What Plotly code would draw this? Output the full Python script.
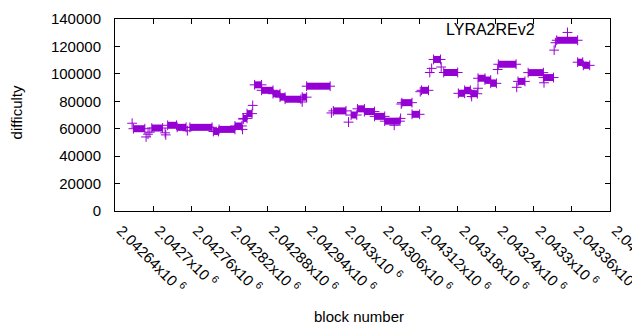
import plotly.graph_objects as go

# plateaus: runs of consecutive blocks at (visually) the same difficulty
plateau_start = [2042669, 2042698, 2042723, 2042738, 2042758, 2042795, 2042804, 2042829,
                 2042842, 2042848, 2042860, 2042871, 2042889, 2042900, 2042908, 2042935,
                 2042942, 2042984, 2043012, 2043022, 2043033, 2043049, 2043065, 2043092,
                 2043108, 2043123, 2043142, 2043158, 2043181, 2043191, 2043201, 2043212,
                 2043223, 2043232, 2043244, 2043275, 2043291, 2043315, 2043336, 2043369,
                 2043378]
plateau_end = [2042687, 2042715, 2042737, 2042752, 2042793, 2042803, 2042829, 2042840,
               2042848, 2042856, 2042871, 2042889, 2042900, 2042908, 2042933, 2042942,
               2042979, 2043004, 2043021, 2043033, 2043049, 2043065, 2043089, 2043108,
               2043120, 2043134, 2043153, 2043180, 2043191, 2043200, 2043211, 2043223,
               2043232, 2043241, 2043272, 2043286, 2043315, 2043331, 2043369, 2043377,
               2043388]
plateau_level = [60000, 60500, 62500, 61000, 61000, 58000, 59500, 62000,
                 67500, 71000, 92000, 88000, 85500, 83000, 81500, 83000,
                 91000, 73000, 70000, 74500, 72500, 69000, 65500, 79000,
                 70500, 88000, 110500, 101000, 85800, 88000, 85500, 96800,
                 95500, 93100, 107000, 94500, 100900, 97300, 124500, 108500,
                 106200]

# isolated blocks
single_block = [2042667, 2042689, 2042692, 2042695, 2042719, 2042720, 2042754, 2042841,
                2042842, 2042857, 2042935, 2042981, 2043008, 2043080, 2043090, 2043091,
                2043121, 2043136, 2043139, 2043154, 2043202, 2043212, 2043243, 2043273,
                2043316, 2043332, 2043334, 2043353]
single_level = [64000, 54000, 56000, 57500, 57000, 55500, 58500, 59500,
                67000, 77000, 79500, 71500, 64800, 62500, 67500, 78000,
                87000, 101000, 104000, 105000, 83500, 89500, 103200, 90200,
                93500, 117300, 122700, 130200]

x_tickvals = [2042640 + 60 * i for i in range(14)]
x_ticktext = ["2.04264", "2.0427", "2.04276", "2.04282", "2.04288", "2.04294", "2.043",
              "2.04306", "2.04312", "2.04318", "2.04324", "2.0433", "2.04336", "2.04342"]
y_tickvals = [0, 20000, 40000, 60000, 80000, 100000, 120000, 140000]

COLOR = "#9400d3"
FONT = "Liberation Sans, Arial, sans-serif"

seg_x, seg_y = [], []
for s, e, v in zip(plateau_start, plateau_end, plateau_level):
    seg_x += [s, e, None]
    seg_y += [v, v, None]

mk_x = plateau_start + plateau_end + single_block
mk_y = plateau_level + plateau_level + single_level

fig = go.Figure()
fig.add_trace(go.Scatter(x=seg_x, y=seg_y, mode="lines",
                         line=dict(color=COLOR, width=7), hoverinfo="skip",
                         showlegend=False))
fig.add_trace(go.Scatter(x=mk_x, y=mk_y, mode="markers",
                         marker=dict(symbol="cross-thin-open", size=7, color=COLOR,
                                     line=dict(color=COLOR, width=1)),
                         showlegend=False))

axis_common = dict(showgrid=False, zeroline=False, showline=True, linecolor="black",
                   linewidth=1, mirror="ticks", ticks="inside", ticklen=5,
                   tickcolor="black", automargin=False,
                   tickfont=dict(family=FONT, size=15, color="black"))

fig.update_xaxes(range=[2042640, 2043420], tickmode="array", tickvals=x_tickvals,
                 ticktext=[t + "x10 <sup>6</sup>" for t in x_ticktext], tickangle=45,
                 ticklabelstandoff=4, ticklabelshift=6, ticklabeloverflow="allow",
                 **axis_common)
fig.update_yaxes(range=[0, 140000], tickmode="array", tickvals=y_tickvals,
                 ticktext=[str(v) for v in y_tickvals], ticklabelstandoff=10,
                 **axis_common)

fig.add_annotation(text="LYRA2REv2", xref="paper", yref="paper", x=0.852, y=0.943,
                   xanchor="right", yanchor="middle", showarrow=False,
                   font=dict(family=FONT, size=16, color="black"))
fig.add_annotation(text="block number", xref="paper", yref="paper", x=0.493, y=-0.547,
                   xanchor="center", yanchor="middle", showarrow=False,
                   font=dict(family=FONT, size=15, color="black"))
fig.add_annotation(text="difficulty", xref="paper", yref="paper", x=-0.199, y=0.516,
                   xanchor="center", yanchor="middle", showarrow=False, textangle=-90,
                   font=dict(family=FONT, size=15, color="black"))

# page body has an 8px default margin, so the figure is sized to fit inside the window
fig.update_layout(width=632, height=322, margin=dict(l=107, r=30, t=11, b=119),
                  paper_bgcolor="white", plot_bgcolor="white",
                  font=dict(family=FONT, size=15, color="black"))

fig.write_html("out.html")
